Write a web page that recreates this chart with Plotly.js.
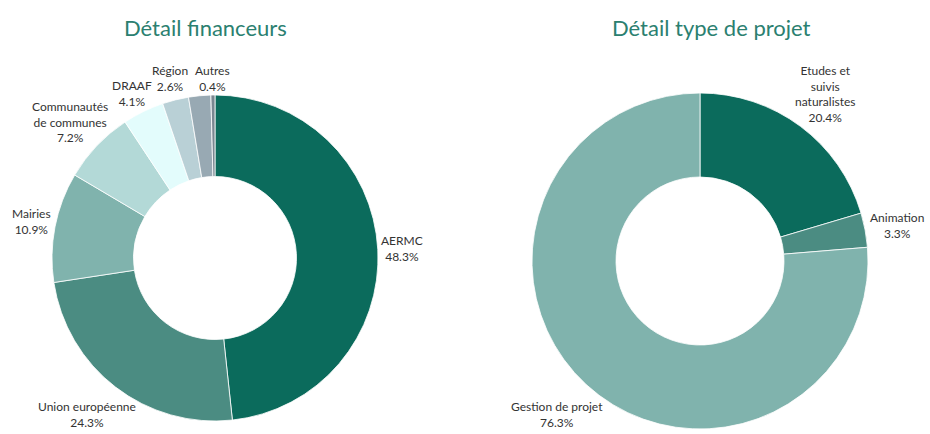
<!DOCTYPE html>
<html>
<head>
<meta charset="utf-8">
<script src="https://cdn.plot.ly/plotly-3.0.1.min.js"></script>
<style>html,body{margin:0;padding:0;background:#fff;}#chart{width:930px;height:434px;}</style>
</head>
<body>
<div id="chart"></div>
<script>
// ---- Data ----
var funderLabels = ["AERMC", "Union européenne", "Mairies", "Communautés de communes", "DRAAF", "Région", " ", "Autres"];
var funderValues = [48.3, 24.3, 10.9, 7.2, 4.1, 2.6, 2.2, 0.4];
var funderText = ["AERMC", "Union européenne", "Mairies", "Communautés<br>de communes", "DRAAF", "Région", "", "Autres"];
var funderColors = ["#0b6b5c", "#4b8c82", "#80b3ad", "#b3d9d7", "#e3fcfc", "#b9d0d6", "#98a9b3", "#7a8791"];

var typeLabels = ["Etudes et suivis naturalistes", "Animation", "Gestion de projet"];
var typeValues = [20.4, 3.3, 76.3];
var typeText = ["Etudes et<br>suivis<br>naturalistes", "Animation", "Gestion de projet"];
var typeColors = ["#0b6b5c", "#4b8c82", "#80b3ad"];

var titles = ["Détail financeurs", "Détail type de projet"];

// ---- Label placement (pixel positions of label centres, first line) ----
var W = 930, H = 434;
var funderPos = [[402, 240], [87, 406], [31, 213], [70, 106], [132, 85], [170, 70], null, [212, 70]];
var typePos = [[825, 70], [897, 217], [557, 406]];

function pct(v) { return v.toFixed(1) + "%"; }

var annotations = [];
function addLabels(texts, values, pos) {
  for (var i = 0; i < texts.length; i++) {
    if (!pos[i] || texts[i] === "") continue;
    annotations.push({
      xref: "paper", yref: "paper",
      x: pos[i][0] / W, y: 1 - (pos[i][1] - 8) / H,
      xanchor: "center", yanchor: "top",
      text: texts[i] + "<br>" + pct(values[i]),
      showarrow: false, align: "center", borderpad: 0,
      font: {family: "Lato, 'Open Sans', sans-serif", size: 12, color: "#333333"}
    });
  }
}
addLabels(funderText, funderValues, funderPos);
addLabels(typeText, typeValues, typePos);

annotations.push({xref: "paper", yref: "paper", x: 205 / W, y: 1 - 27 / H, xanchor: "center", yanchor: "middle",
  text: titles[0], showarrow: false, font: {family: "Lato, 'Open Sans', sans-serif", size: 22, color: "#2b8070"}});
annotations.push({xref: "paper", yref: "paper", x: 711 / W, y: 1 - 27 / H, xanchor: "center", yanchor: "middle",
  text: titles[1], showarrow: false, font: {family: "Lato, 'Open Sans', sans-serif", size: 22, color: "#2b8070"}});

var traces = [
  {
    type: "pie", labels: funderLabels, values: funderValues, hole: 0.5,
    sort: false, direction: "clockwise", rotation: 0,
    marker: {colors: funderColors, line: {color: "#ffffff", width: 0.8}},
    textinfo: "none", hoverinfo: "label+percent",
    domain: {x: [52 / W, 378 / W], y: [1 - 421 / H, 1 - 95 / H]},
    showlegend: false
  },
  {
    type: "pie", labels: typeLabels, values: typeValues, hole: 0.5,
    sort: false, direction: "clockwise", rotation: 0,
    marker: {colors: typeColors, line: {color: "#ffffff", width: 0.8}},
    textinfo: "none", hoverinfo: "label+percent",
    domain: {x: [532 / W, 868 / W], y: [1 - 429 / H, 1 - 93 / H]},
    showlegend: false
  }
];

var layout = {
  width: W, height: H,
  margin: {l: 0, r: 0, t: 0, b: 0},
  paper_bgcolor: "#ffffff",
  showlegend: false,
  annotations: annotations
};

Plotly.newPlot("chart", traces, layout, {displayModeBar: false, staticPlot: true});
</script>
</body>
</html>
